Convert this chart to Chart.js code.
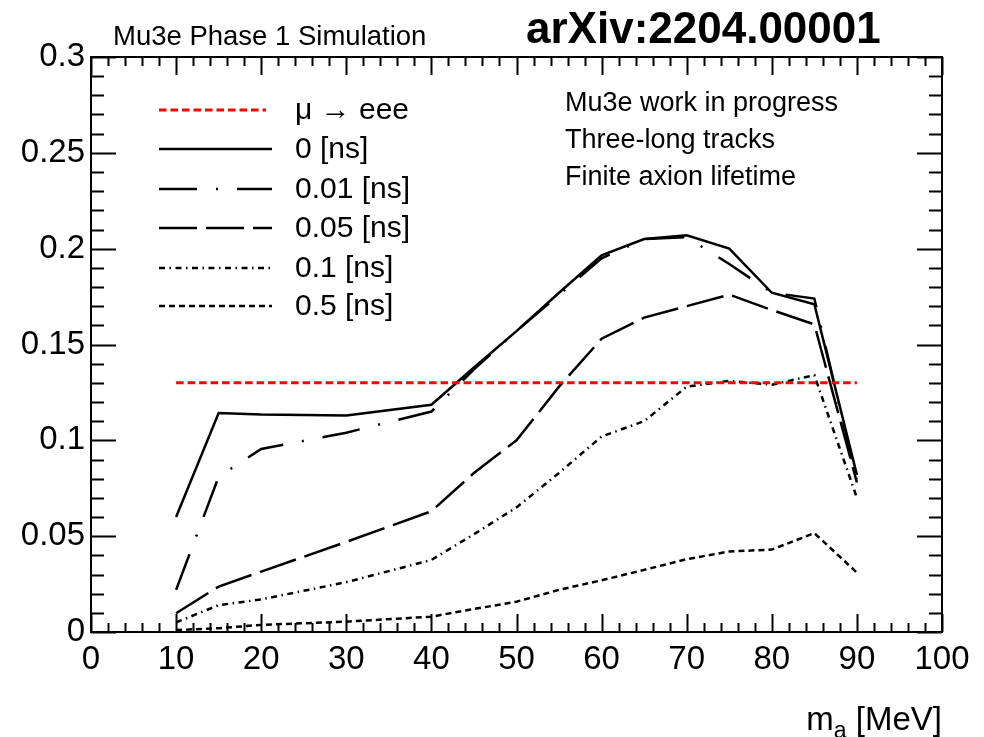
<!DOCTYPE html>
<html>
<head>
<meta charset="utf-8">
<script src="https://cdn.jsdelivr.net/npm/chart.js@4.4.1/dist/chart.umd.min.js"></script>
<style>
  html, body { margin: 0; padding: 0; background: #fff; }
  #wrap { width: 984px; height: 737px; }
</style>
</head>
<body>
<div id="wrap"><canvas id="effChart" width="984" height="737"></canvas></div>
<script>
// Axion mass points [MeV]
const masses = [10, 15, 20, 30, 40, 45, 50, 55, 60, 65, 70, 75, 80, 85, 90];

// Efficiency per lifetime
const eff0ns    = [0.060, 0.1143, 0.1135, 0.113, 0.1186, 0.138, 0.157, 0.177, 0.1965, 0.205, 0.207, 0.200, 0.177, 0.171, 0.082];
const eff001ns  = [0.022, 0.081, 0.0955, 0.104, 0.115, 0.137, 0.157, 0.176, 0.195, 0.205, 0.206, 0.192, 0.177, 0.174, 0.079];
const eff005ns  = [0.0098, 0.0237, 0.0315, 0.047, 0.063, 0.083, 0.100, 0.128, 0.153, 0.164, 0.170, 0.176, 0.168, 0.1605, 0.078];
const eff01ns   = [0.005, 0.014, 0.017, 0.026, 0.0376, 0.051, 0.065, 0.083, 0.102, 0.110, 0.128, 0.131, 0.129, 0.134, 0.070];
const eff05ns   = [0.001, 0.002, 0.0037, 0.0054, 0.008, 0.012, 0.0158, 0.022, 0.027, 0.0324, 0.038, 0.042, 0.043, 0.0516, 0.031];

// mu -> eee reference level
const muEeeMasses = [10, 90];
const muEeeLevel  = [0.13, 0.13];

const seriesLabels = ['\u03bc \u2192 eee', '0 [ns]', '0.01 [ns]', '0.05 [ns]', '0.1 [ns]', '0.5 [ns]'];
const infoLines = ['Mu3e work in progress', 'Three-long tracks', 'Finite axion lifetime'];

const FONT = '"Liberation Sans", Arial, Helvetica, sans-serif';

function toPoints(xs, ys) {
    return xs.map((m, i) => ({ x: m, y: ys[i] }));
}

function lineSet(label, xs, ys, color, dash, width) {
    return {
        label: label,
        data: toPoints(xs, ys),
        borderColor: color,
        borderDash: dash,
        borderWidth: width,
        pointRadius: 0,
        tension: 0,
        fill: false
    };
}

const datasets = [
    lineSet(seriesLabels[0], muEeeMasses, muEeeLevel, '#ff0000', [7.5, 4], 3),
    lineSet(seriesLabels[1], masses, eff0ns, '#000', [], 2.5),
    lineSet(seriesLabels[2], masses, eff001ns, '#000', [38, 19, 2, 19], 2.5),
    lineSet(seriesLabels[3], masses, eff005ns, '#000', [38, 9], 2.5),
    lineSet(seriesLabels[4], masses, eff01ns, '#000', [6, 4.5, 1.5, 4.5], 2.5),
    lineSet(seriesLabels[5], masses, eff05ns, '#000', [6, 4], 2.5)
];

// ROOT style frame with inward ticks on all sides
const frameTicks = {
    id: 'frameTicks',
    afterDatasetsDraw(chart) {
        const { ctx, chartArea: a, scales: { x, y } } = chart;
        ctx.save();
        ctx.strokeStyle = '#000';
        ctx.lineWidth = 2;
        ctx.strokeRect(a.left, a.top, a.right - a.left, a.bottom - a.top);
        ctx.beginPath();
        for (let v = 0; v <= 100; v += 2) {
            const px = Math.round(x.getPixelForValue(v)) + 0.5;
            const len = v % 10 === 0 ? 18 : 9;
            ctx.moveTo(px, a.bottom); ctx.lineTo(px, a.bottom - len);
            ctx.moveTo(px, a.top); ctx.lineTo(px, a.top + len);
        }
        for (let i = 0; i <= 30; i++) {
            const py = Math.round(y.getPixelForValue(i / 100)) + 0.5;
            const len = i % 5 === 0 ? 25 : 13;
            ctx.moveTo(a.left, py); ctx.lineTo(a.left + len, py);
            ctx.moveTo(a.right, py); ctx.lineTo(a.right - len, py);
        }
        ctx.stroke();
        ctx.restore();
    }
};

// Legend with line samples + text boxes
const legendAndText = {
    id: 'legendAndText',
    afterDraw(chart) {
        const ctx = chart.ctx;
        ctx.save();

        // legend
        const rows = [110, 149, 189, 228, 268, 306];
        ctx.font = '30px ' + FONT;
        ctx.textBaseline = 'middle';
        ctx.fillStyle = '#000';
        chart.data.datasets.forEach((ds, i) => {
            const yRow = rows[i];
            ctx.beginPath();
            ctx.strokeStyle = ds.borderColor;
            ctx.lineWidth = ds.borderWidth;
            ctx.setLineDash(ds.borderDash);
            ctx.moveTo(159, yRow);
            ctx.lineTo(i === 0 ? 266 : 272, yRow);
            ctx.stroke();
            ctx.setLineDash([]);
            ctx.fillText(ds.label, 295, yRow + 1);
        });

        // info text
        ctx.font = '27px ' + FONT;
        const infoRows = [104, 141, 178];
        infoLines.forEach((t, i) => ctx.fillText(t, 565, infoRows[i]));

        // header
        ctx.textBaseline = 'alphabetic';
        ctx.font = '27.5px ' + FONT;
        ctx.fillText('Mu3e Phase 1 Simulation', 113, 45);
        ctx.font = 'bold 44px ' + FONT;
        ctx.fillText('arXiv:2204.00001', 526, 43);

        // x axis title  m_a [MeV]
        const big = '33px ' + FONT, small = '23px ' + FONT;
        ctx.font = big;
        const wM = ctx.measureText('m').width;
        const wRest = ctx.measureText(' [MeV]').width;
        ctx.font = small;
        const wA = ctx.measureText('a').width;
        let xPos = chart.chartArea.right - (wM + wA + wRest);
        ctx.font = big;
        ctx.fillText('m', xPos, 730);
        xPos += wM;
        ctx.font = small;
        ctx.fillText('a', xPos, 738);
        xPos += wA;
        ctx.font = big;
        ctx.fillText(' [MeV]', xPos, 730);

        ctx.restore();
    }
};

new Chart(document.getElementById('effChart'), {
    type: 'line',
    data: { datasets: datasets },
    options: {
        responsive: false,
        animation: false,
        devicePixelRatio: 1,
        layout: { padding: { top: 57, right: 42, left: 0, bottom: 0 } },
        plugins: {
            legend: { display: false },
            tooltip: { enabled: false }
        },
        scales: {
            x: {
                type: 'linear',
                min: 0,
                max: 100,
                grid: { display: false, drawTicks: false },
                border: { display: false },
                afterFit(scale) { scale.height = 105; },
                ticks: {
                    stepSize: 10,
                    padding: 8,
                    color: '#000',
                    font: { family: FONT, size: 33 },
                    maxRotation: 0
                }
            },
            y: {
                type: 'linear',
                min: 0,
                max: 0.3,
                grid: { display: false, drawTicks: false },
                border: { display: false },
                afterFit(scale) { scale.width = 91; },
                ticks: {
                    stepSize: 0.05,
                    padding: 6,
                    color: '#000',
                    font: { family: FONT, size: 33 },
                    callback: v => String(+v.toFixed(2))
                }
            }
        }
    },
    plugins: [frameTicks, legendAndText]
});
</script>
</body>
</html>
